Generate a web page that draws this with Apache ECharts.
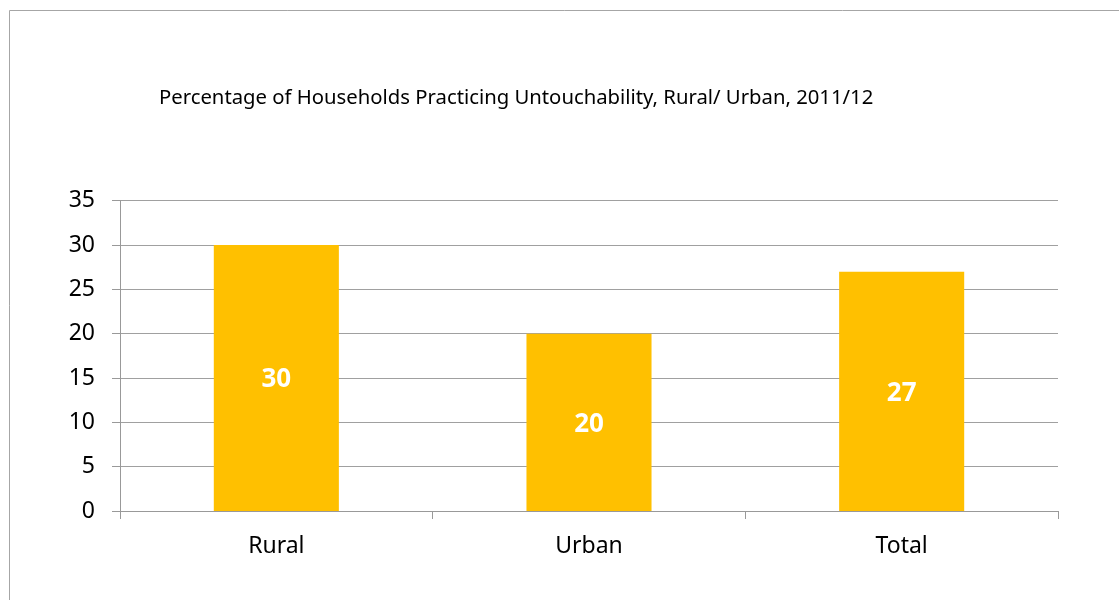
<!DOCTYPE html>
<html><head><meta charset="utf-8">
<script src="https://cdn.jsdelivr.net/npm/echarts@6/dist/echarts.min.js"></script>
<style>html,body{margin:0;padding:0;background:#fff}#c{width:1119px;height:600px}</style>
</head><body><div id="c"></div>
<script>
const categories = ['Rural', 'Urban', 'Total'];
const values = [30, 20, 27];
const yTicks = [0, 5, 10, 15, 20, 25, 30, 35];
const titleText = 'Percentage of Households Practicing Untouchability, Rural/ Urban, 2011/12';

const chart = echarts.init(document.getElementById('c'));
const FONT = '"Noto Sans", sans-serif';
chart.setOption({
  animation: false,
  backgroundColor: '#fff',
  graphic: [{
    type: 'rect', shape: {x: 9.5, y: 10.5, width: 1200, height: 700},
    style: {fill: 'none', stroke: '#a6a6a6', lineWidth: 1}, silent: true
  }],
  title: {
    text: titleText, left: 154, top: 83,
    textStyle: {fontFamily: FONT, fontSize: 20.3, fontWeight: 'normal', color: '#000'}
  },
  grid: {left: 120, right: 61, top: 200.7, bottom: 89, containLabel: false},
  xAxis: {
    type: 'category', data: categories,
    axisLine: {lineStyle: {color: '#999', width: 1}},
    axisTick: {show: true, length: 8, alignWithLabel: false, lineStyle: {color: '#999'}},
    axisLabel: {fontFamily: FONT, fontSize: 23, color: '#000', margin: 24}
  },
  yAxis: {
    type: 'value', min: yTicks[0], max: yTicks[yTicks.length - 1], interval: 5,
    axisLine: {show: true, lineStyle: {color: '#999', width: 1}},
    axisTick: {show: true, length: 8, lineStyle: {color: '#999'}},
    splitLine: {lineStyle: {color: '#a0a0a0', width: 1}},
    axisLabel: {fontFamily: FONT, fontSize: 23, color: '#000', margin: 25}
  },
  series: [{
    type: 'bar', data: values, barWidth: '40%',
    itemStyle: {color: '#FFC000'},
    label: {show: true, position: 'inside', offset: [0, 2], color: '#fff', fontWeight: 'bold',
      fontFamily: FONT, fontSize: 26}
  }]
});
</script></body></html>
